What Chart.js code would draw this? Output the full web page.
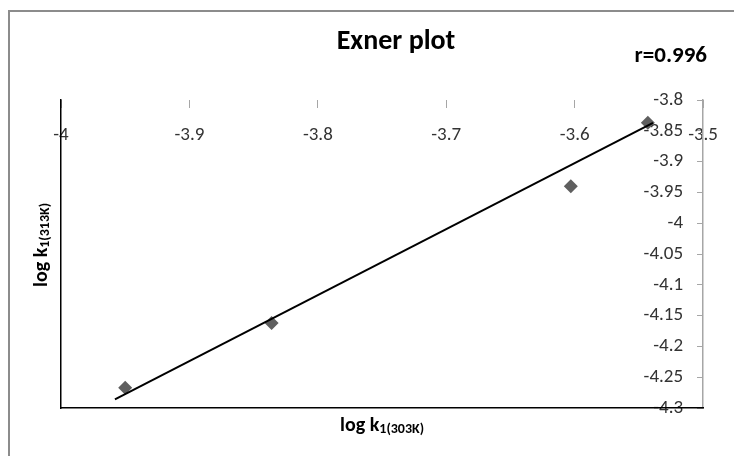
<!DOCTYPE html>
<html>
<head>
<meta charset="utf-8">
<script src="https://cdn.jsdelivr.net/npm/chart.js@4.4.0/dist/chart.umd.min.js"></script>
<style>
  html, body { margin: 0; padding: 0; background: #fff; overflow: hidden; }
  #wrap { position: relative; width: 734px; height: 456px; }
  #frame { position: absolute; left: 8px; top: 10px; width: 800px; height: 500px;
           border: 2px solid #8c8c8c; pointer-events: none; }
</style>
</head>
<body>
<div id="wrap">
  <canvas id="chart" width="734" height="456"></canvas>
  <div id="frame"></div>
</div>
<script>
// measured points (log k1 at 303K vs 313K)
const xValues = [-3.95, -3.836, -3.603, -3.543];
const yValues = [-4.267, -4.162, -3.94, -3.837];
// trend line ends as drawn
const trendX = [-3.958, -3.539];
const trendY = [-4.286, -3.837];
const xTickValues = [-4, -3.9, -3.8, -3.7, -3.6, -3.5];
const yTickValues = [-3.8, -3.85, -3.9, -3.95, -4, -4.05, -4.1, -4.15, -4.2, -4.25, -4.3];

const FONT = "Carlito, Lato, 'Liberation Sans', sans-serif";

// title, r value and the two axis titles (with subscripts)
const textPlugin = {
    id: 'texts',
    afterDraw(chart) {
        const ctx = chart.ctx;
        const area = chart.chartArea;
        ctx.save();
        ctx.fillStyle = '#000';
        ctx.textBaseline = 'middle';
        ctx.textAlign = 'center';
        ctx.font = 'bold 28px ' + FONT;
        ctx.fillText('Exner plot', 396, 42);
        ctx.textAlign = 'right';
        ctx.font = 'bold 23px ' + FONT;
        ctx.fillText('r=0.996', 707, 56);

        const drawLabel = (main, sub, x, y, rot) => {
            ctx.save();
            ctx.translate(x, y);
            ctx.rotate(rot);
            ctx.textAlign = 'left';
            ctx.textBaseline = 'alphabetic';
            ctx.font = 'bold 20px ' + FONT;
            const w1 = ctx.measureText(main).width;
            ctx.font = 'bold 14px ' + FONT;
            const w2 = ctx.measureText(sub).width;
            const start = -(w1 + w2) / 2;
            ctx.font = 'bold 20px ' + FONT;
            ctx.fillText(main, start, 6);
            ctx.font = 'bold 14px ' + FONT;
            ctx.fillText(sub, start + w1, 8);
            ctx.restore();
        };
        drawLabel('log k', '1(303K)', (area.left + area.right) / 2, area.bottom + 17, 0);
        drawLabel('log k', '1(313K)', area.left - 20, 245, -Math.PI / 2);
        ctx.restore();
    }
};

const tickFont = { family: FONT, size: 19 };

const ctx = document.getElementById('chart').getContext('2d');
new Chart(ctx, {
    type: 'scatter',
    data: {
        datasets: [
            {
                type: 'line',
                data: trendX.map((x, i) => ({ x: x, y: trendY[i] })),
                borderColor: '#000',
                borderWidth: 2,
                pointRadius: 0,
                fill: false,
                order: 0,
            },
            {
                data: xValues.map((x, i) => ({ x: x, y: yValues[i] })),
                pointStyle: 'rectRot',
                pointRadius: 7,
                backgroundColor: '#5f5f5f',
                borderWidth: 0,
                order: 1,
            },
        ],
    },
    options: {
        responsive: false,
        animation: false,
        layout: { padding: { left: 61, right: 26, top: 100, bottom: 48 } },
        plugins: { legend: { display: false }, tooltip: { enabled: false } },
        scales: {
            x: {
                type: 'linear',
                axis: 'x',
                min: -4,
                max: -3.5,
                position: { y: -3.8 },
                border: { display: false },
                grid: { drawOnChartArea: false, drawTicks: true, tickLength: 8, tickColor: '#a6a6a6' },
                afterBuildTicks: s => { s.ticks = xTickValues.map(v => ({ value: v })); },
                ticks: {
                    padding: 16,
                    maxRotation: 0,
                    autoSkip: false,
                    color: '#333',
                    font: tickFont,
                    callback: v => String(v),
                },
            },
            // axis line at x = -3.5 with short inward tick marks
            y: {
                type: 'linear',
                axis: 'y',
                min: -4.3,
                max: -3.8,
                position: { x: -3.5 },
                border: { color: '#a6a6a6', width: 1.5 },
                grid: { drawOnChartArea: false, drawTicks: true, tickLength: 5, tickColor: '#a6a6a6' },
                afterBuildTicks: s => { s.ticks = yTickValues.map(v => ({ value: v })); },
                ticks: { display: false },
            },
            // labels of that axis, mirrored inside the plot
            yLabels: {
                type: 'linear',
                axis: 'y',
                min: -4.3,
                max: -3.8,
                position: 'right',
                border: { display: false },
                grid: { display: false, drawTicks: false },
                afterBuildTicks: s => { s.ticks = yTickValues.map(v => ({ value: v })); },
                ticks: {
                    mirror: true,
                    padding: -20,
                    autoSkip: false,
                    color: '#333',
                    font: tickFont,
                    callback: v => String(v),
                },
            },
            xLine: {
                type: 'linear',
                axis: 'x',
                min: -4,
                max: -3.5,
                position: { y: -4.3 },
                border: { color: '#000', width: 1.5 },
                grid: { display: false },
                ticks: { display: false },
            },
            yLine: {
                type: 'linear',
                axis: 'y',
                min: -4.3,
                max: -3.8,
                position: { x: -4 },
                border: { color: '#000', width: 1.5 },
                grid: { display: false },
                ticks: { display: false },
            },
        },
    },
    plugins: [textPlugin],
});
</script>
</body>
</html>
